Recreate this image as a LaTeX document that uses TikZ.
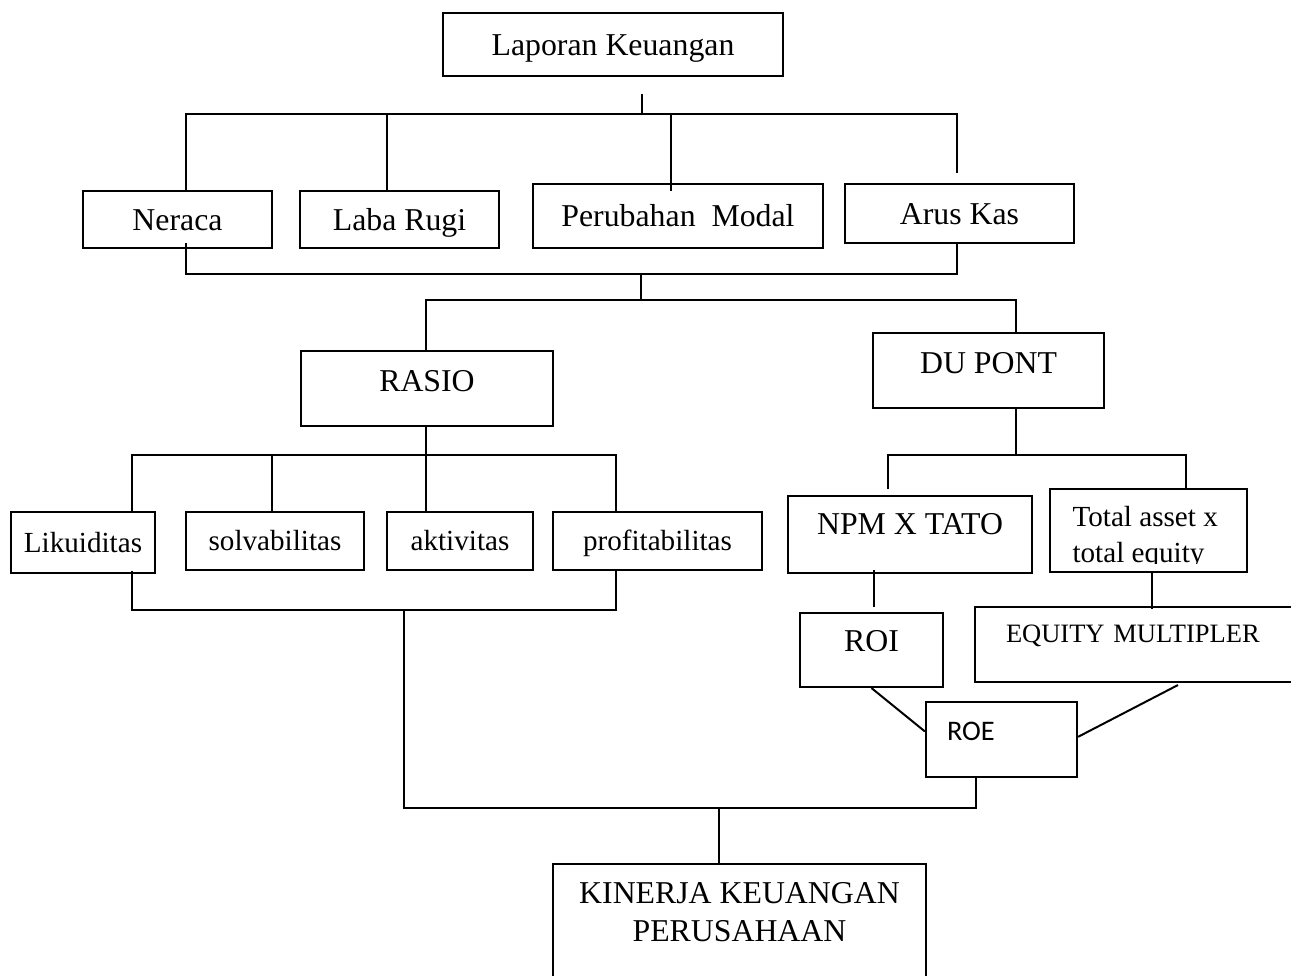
\documentclass[tikz,border=0pt]{standalone}
\usepackage{fontspec}
\setmainfont{Liberation Serif}
\newfontfamily\roefont{Carlito}
\def\pxu{0.3774pt}

\begin{document}
\begin{tikzpicture}[x=0.3774pt, y=-0.3774pt,
    box/.style={draw, line width=0.8pt, inner sep=0pt, text height=7.95pt, text depth=0pt,
      font=\fontsize{12}{14}\selectfont},
    smallbox/.style={box, text height=7.3pt, font=\fontsize{11}{13}\selectfont},
    wh/.style 2 args={minimum width=#1*\pxu, minimum height=#2*\pxu},
    ln/.style={line width=0.75pt}]
	\useasboundingbox (0,0) rectangle (1291,975);
	\clip (0,0) rectangle (1291,975);

	\node[box, wh={340}{63}] (lap) at (613,44.5) {Laporan Keuangan};
	\node[box, wh={189}{57}] (neraca) at (177.5,219.5) {Neraca};
	\node[box, wh={199}{57}] (labarugi) at (399.5,219.5) {Laba Rugi};
	\node[box, wh={290}{64}] (modal) at (678,216) {Perubahan\ \ Modal};
	\node[box, wh={229}{59}] (aruskas) at (959.5,213.5) {Arus Kas};
	\node[box, wh={252}{75}, text depth=6.04pt] (rasio) at (427,388.5) {RASIO};
	\node[box, wh={231}{75}, text depth=5.66pt] (dupont) at (988.5,370.5) {DU PONT};
	\node[smallbox, wh={144}{61}] (likuiditas) at (83,542.5) {Likuiditas};
	\node[smallbox, wh={178}{58}] (solvabilitas) at (275,541) {solvabilitas};
	\node[smallbox, wh={146}{58}] (aktivitas) at (460,541) {aktivitas};
	\node[smallbox, wh={209}{58}] (profitabilitas) at (657.5,541) {profitabilitas};
	\node[box, wh={244}{77}, text depth=7.93pt] (npm) at (910,534.5) {NPM X TATO};
	\node[box, wh={197}{83}] (totalasset) at (1148.5,530.5) {};
	\node[box, wh={143}{74}, text depth=7.17pt] (roi) at (871.5,650) {ROI};
	\node[box, wh={345}{75}, font=\fontsize{10}{12}\selectfont, text height=6.6pt, text depth=7.93pt,
	  text width=106.8pt, inner xsep=11.7pt, align=left] (equity) at (1147.5,644.5) {EQUITY MULTIPLER};
	\node[box, wh={151}{75}, font=\roefont\fontsize{10.7}{13}\selectfont, text height=6.9pt, text depth=6.42pt,
	  text width=41.14pt, inner xsep=7.93pt, align=left] (roe) at (1001.5,739.5) {ROE};
	\node[box, wh={373}{146}] (kinerja) at (739.5,937) {};

	\begin{scope}
		\clip (1050,489) rectangle (1247,563);
		\node[anchor=north west, inner sep=0pt, align=left, font=\fontsize{11}{13.6}\selectfont] (tatext) at (1072,506) {Total asset x\\total equity};
	\end{scope}
	\node[anchor=north, inner sep=0pt, align=center, font=\fontsize{12}{14.3}\selectfont] (kinerjatext) at (739.5,882) {KINERJA KEUANGAN\\PERUSAHAAN};

	\coordinate (b1t) at (642,94);
	\coordinate (b1l) at (186,114);
	\coordinate (b1r) at (957,114);
	\coordinate (b1a) at (957,173);
	\coordinate (b1b) at (387,114);
	\coordinate (b1c) at (671,114);
	\coordinate (b1d) at (671,191);
	\coordinate (b2s) at (186,243);
	\coordinate (b2l) at (186,274);
	\coordinate (b2r) at (957,274);
	\coordinate (b2m) at (641,274);
	\coordinate (b3l) at (426,300);
	\coordinate (b3r) at (1016,300);
	\coordinate (b4l) at (132,455);
	\coordinate (b4r) at (616,455);
	\coordinate (b4s) at (272,455);
	\coordinate (b5s) at (132,571);
	\coordinate (b5l) at (132,610);
	\coordinate (b5r) at (616,610);
	\coordinate (b5m) at (404,610);
	\coordinate (b6l) at (404,808);
	\coordinate (b6r) at (976,808);
	\coordinate (b6m) at (719,808);
	\coordinate (b7l) at (888,455);
	\coordinate (b7r) at (1186,455);
	\coordinate (b7e) at (888,489);
	\coordinate (b8s) at (874,570);
	\coordinate (b8e) at (874,607);
	\coordinate (b9s) at (1152,572);
	\coordinate (b9e) at (1152,609);
	\coordinate (b10s) at (1178,685);

	\draw[ln] (b1t) -- (b1t |- b1l);
	\draw[ln] (b1l |- neraca.north) -- (b1l) -- (b1r) -- (b1a);
	\draw[ln] (b1b) -- (b1b |- labarugi.north);
	\draw[ln] (b1c) -- (b1d);
	\draw[ln] (b2s) -- (b2l) -- (b2r) -- (b2r |- aruskas.south);
	\draw[ln] (b2m) -- (b2m |- b3l);
	\draw[ln] (b3l |- rasio.north) -- (b3l) -- (b3r) -- (b3r |- dupont.north);
	\draw[ln] (b3l |- rasio.south) -- (b3l |- aktivitas.north);
	\draw[ln] (b4l |- likuiditas.north) -- (b4l) -- (b4r) -- (b4r |- profitabilitas.north);
	\draw[ln] (b4s) -- (b4s |- solvabilitas.north);
	\draw[ln] (b5s) -- (b5l) -- (b5r) -- (b5r |- profitabilitas.south);
	\draw[ln] (b5m) -- (b6l) -- (b6r) -- (b6r |- roe.south);
	\draw[ln] (b6m) -- (b6m |- kinerja.north);
	\draw[ln] (b3r |- dupont.south) -- (b3r |- b7l);
	\draw[ln] (b7e) -- (b7l) -- (b7r) -- (b7r |- totalasset.north);
	\draw[ln] (b8s) -- (b8e);
	\draw[ln] (b9s) -- (b9e);
	\draw[ln] (roi.south) -- (roe.174);
	\draw[ln] (b10s) -- (roe.2);
\end{tikzpicture}
\end{document}
